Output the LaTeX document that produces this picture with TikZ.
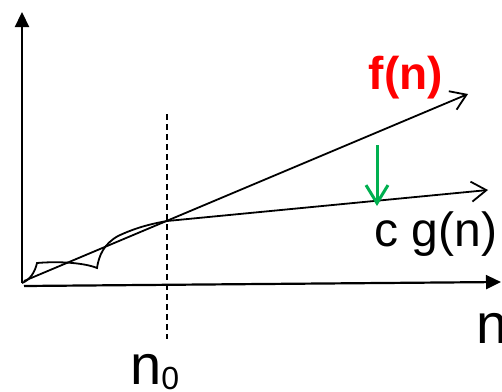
\documentclass[tikz,border=0pt]{standalone}
\usepackage{fontspec}
\setmainfont{Liberation Sans}
\usetikzlibrary{arrows.meta}
\definecolor{pptgreen}{RGB}{0,176,80}

\begin{document}
\begin{tikzpicture}[x=1pt,y=-1pt,
    axis/.style={line width=2.2pt,-{Triangle[length=15pt,width=14pt]}},
    growth/.style={line width=1.8pt,-{Straight Barb[length=15pt,width=20pt,line width=1.8pt]}},
    lbl/.style={inner sep=0pt,anchor=base}]
  \useasboundingbox (0,0) rectangle (502,391);

  \coordinate (ybot) at (22,283);
  \coordinate (ytop) at (22,12);
  \coordinate (xleft) at (24,286);
  \coordinate (xright) at (501,282);
  \draw [axis] (ybot) -- (ytop);
  \draw [axis] (xleft) -- (xright);

  \coordinate (thtop) at (167,114);
  \coordinate (thbot) at (167,339);
  \draw [line width=2pt, dash pattern=on 6pt off 4pt] (thtop) -- (thbot);

  \coordinate (fstart) at (24,281);
  \coordinate (fend) at (468,94);
  \draw [growth] (fstart) -- (fend);

  \coordinate (gstart) at (22,283);
  \coordinate (cross) at (167,221);
  \coordinate (gend) at (488,190);
  \draw [growth] (gstart) .. controls (30,280) and (35,272) .. (37,263)
        .. controls (60,261) and (85,263) .. (97,268)
        .. controls (99,255) and (104,244) .. (118,236)
        .. controls (135,228) and (150,224) .. (cross) -- (gend);

  \coordinate (gtop) at (377,145);
  \coordinate (gtip) at (377,206);
  \draw [pptgreen, line width=3pt, -{Straight Barb[length=18pt,width=22pt,line width=3pt]}] (gtop) -- (gtip);

  \node [lbl, text=red, font=\bfseries\fontsize{46}{46}\selectfont] (flabel) at (406,89) {f(n)};
  \node [lbl, font=\fontsize{48}{48}\selectfont] (glabel) at (436,246) {c g(n)};
  \node [lbl, anchor=base west, font=\fontsize{56}{56}\selectfont] (n0label) at (130,384)
        {n\raisebox{-5pt}{\fontsize{32}{32}\selectfont 0}};
  \node [lbl, anchor=base west, font=\fontsize{56}{56}\selectfont] (nlabel) at (476,343) {n};
\end{tikzpicture}
\end{document}
